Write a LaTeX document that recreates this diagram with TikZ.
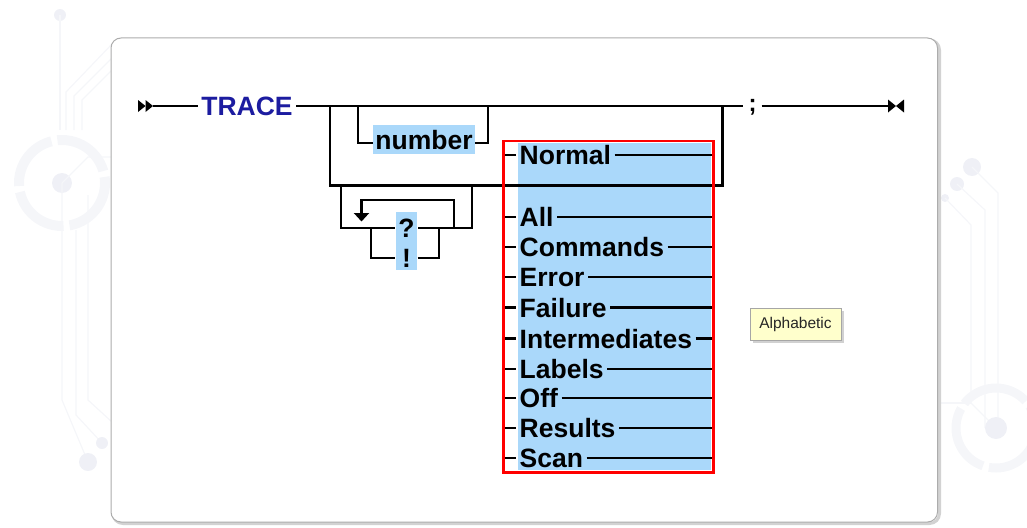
\documentclass[tikz,border=0pt]{standalone}
\usepackage{fontspec}
\setmainfont{Liberation Sans}
\usetikzlibrary{arrows.meta,shadows}
\definecolor{hl}{RGB}{170,216,250}
\definecolor{kw}{RGB}{28,28,160}
\definecolor{decoline}{RGB}{245,246,249}
\definecolor{decodot}{RGB}{239,240,246}
\definecolor{note}{RGB}{255,255,204}
\begin{document}
\begin{tikzpicture}[x=1pt,y=-1pt,
  rail/.style={line width=2.4pt,line cap=butt,black},
  word/.style={font=\fontsize{26.5}{30}\selectfont\bfseries,inner xsep=3.5pt,inner ysep=0pt,
               text height=19pt,text depth=0pt},
  kwword/.style={word,text=kw},
  item/.style={word,anchor=west},
  numbox/.style={word,fill=hl,inner xsep=2pt,inner ysep=5pt},
  semistyle/.style={font=\fontsize{24}{28}\selectfont\bfseries,inner xsep=5pt,inner ysep=0pt,
               text height=10pt,text depth=0pt},
  notebox/.style={font=\fontsize{15.5}{18}\selectfont,text=black!85,fill=note,draw=gray!70,
               line width=0.8pt,minimum width=91pt,minimum height=32pt,inner sep=0pt,
               drop shadow={shadow xshift=3pt,shadow yshift=-3pt,fill=gray!45,opacity=0.8}},
  deco/.style={decoline,line width=1.2pt},
  tip/.style={fill=black}]
\useasboundingbox (0,0) rectangle (1027,527);

% faint circuit ornaments in the background
\begin{scope}
  \fill[decodot] (60,15) circle (6);
  \draw[deco] (60,15) -- (60,130);
  \draw[deco] (66,130) -- (66,92) -- (112,44);
  \draw[deco] (74,130) -- (74,96) -- (112,58);
  \draw[deco] (82,130) -- (82,100) -- (112,70);
  \draw[decoline,line width=10pt,dash pattern=on 60pt off 6pt] (62,183) circle (43);
  \fill[decodot] (62,183) circle (10);
  \draw[deco] (62,183) -- (88,157) -- (112,157);
  \draw[deco] (62,183) -- (62,400) -- (88,462);
  \fill[decodot] (88,462) circle (9);
  \draw[deco] (76,230) -- (76,415) -- (102,443);
  \fill[decodot] (102,443) circle (6);
  \draw[deco] (88,195) -- (88,400) -- (112,422);
  \fill[decodot] (972,167) circle (9);
  \fill[decodot] (957,184) circle (7);
  \fill[decodot] (945,198) circle (4);
  \draw[deco] (972,167) -- (998,193) -- (998,428);
  \draw[deco] (957,184) -- (985,210) -- (985,428);
  \draw[deco] (945,198) -- (971,225) -- (971,403) -- (996,428);
  \draw[deco] (938,403) -- (971,403);
  \draw[decoline,line width=9pt,dash pattern=on 70pt off 6pt] (996,428) circle (40);
  \fill[decodot] (996,428) circle (11);
\end{scope}

% panel
\draw[gray!35,line width=3pt,rounded corners=10pt] (113,40) rectangle (939.5,523.5);
\draw[fill=white,draw=gray!65,line width=1pt,rounded corners=10pt] (111,38) rectangle (937.5,522);

% highlight areas
\fill[hl] (518,143) rectangle (711,470);
\fill[hl] (396,212) rectangle (417,270);

% main line
\fill[tip] (138,100) -- (138,112) -- (145.5,106) -- cycle;
\fill[tip] (145.5,100) -- (145.5,112) -- (153,106) -- cycle;
\coordinate (st) at (153,106);
\node[kwword] (trace) at (247,106) {TRACE};
\node[semistyle] (semi) at (752.5,106) {;};
\coordinate (en) at (888,106);
\draw[rail] (st) -- (trace.west);
\draw[rail] (trace.east) -- (semi.west);
\draw[rail] (semi.east) -- (en);
\fill[tip] (888,99.5) -- (888,112.5) -- (896,106) -- cycle;
\fill[tip] (904,99.5) -- (904,112.5) -- (896,106) -- cycle;

% optional number
\coordinate (n1) at (358,106);
\coordinate (n2) at (488,106);
\node[numbox] (num) at (424,139.5) {number};
\draw[rail] (n1) |- ([yshift=-3.5pt]num.west);
\draw[rail] ([yshift=-3.5pt]num.east) -| (n2);

% lower track
\coordinate (j1) at (330,106);
\coordinate (j2) at (722.5,106);
\coordinate (lo1) at (330,185.5);
\coordinate (lo2) at (722.5,185.5);
\draw[rail] (j1) -- (lo1) -- (lo2) -- (j2);

% repeatable ? / ! group
\coordinate (q1) at (341,185.5);
\coordinate (q2) at (472,185.5);
\node[word,minimum width=22pt] (q) at (406.5,228) {?};
\node[word,minimum width=22pt] (ex) at (406.5,258) {!};
\draw[rail] (q1) |- (q.west);
\draw[rail] (q.east) -| (q2);
\coordinate (c1) at (371,228);
\coordinate (c2) at (439,228);
\draw[rail] (c1) |- (ex.west);
\draw[rail] (ex.east) -| (c2);
\coordinate (r1) at (454,228);
\coordinate (r2) at (361.5,200);
\coordinate (r3) at (361.5,221.5);
\draw[rail,-{Triangle[width=15pt,length=8.5pt]}] (r1) |- (r2) -- (r3);

% keyword choices
\coordinate (cl) at (504,155);
\coordinate (clb) at (504,458);
\coordinate (cr) at (712.8,155);
\coordinate (crb) at (712.8,458);
\draw[rail] (cl) -- (clb);
\draw[rail] (cr) -- (crb);
\foreach \nm/\yy in {Normal/155,All/217,Commands/247,Error/277,Failure/307.5,
                     Intermediates/338.5,Labels/369,Off/398,Results/428,Scan/458}{
  \node[item] (k\nm) at (516,\yy) {\nm};
  \draw[rail] (504,\yy) -- (k\nm.west);
  \draw[rail] (k\nm.east) -- (712.8,\yy);
}
\draw[red,line width=2.6pt] (503.5,141) rectangle (713.2,472.5);

% group note
\node[notebox] (note) at (795.5,324) {Alphabetic};
\end{tikzpicture}
\end{document}
